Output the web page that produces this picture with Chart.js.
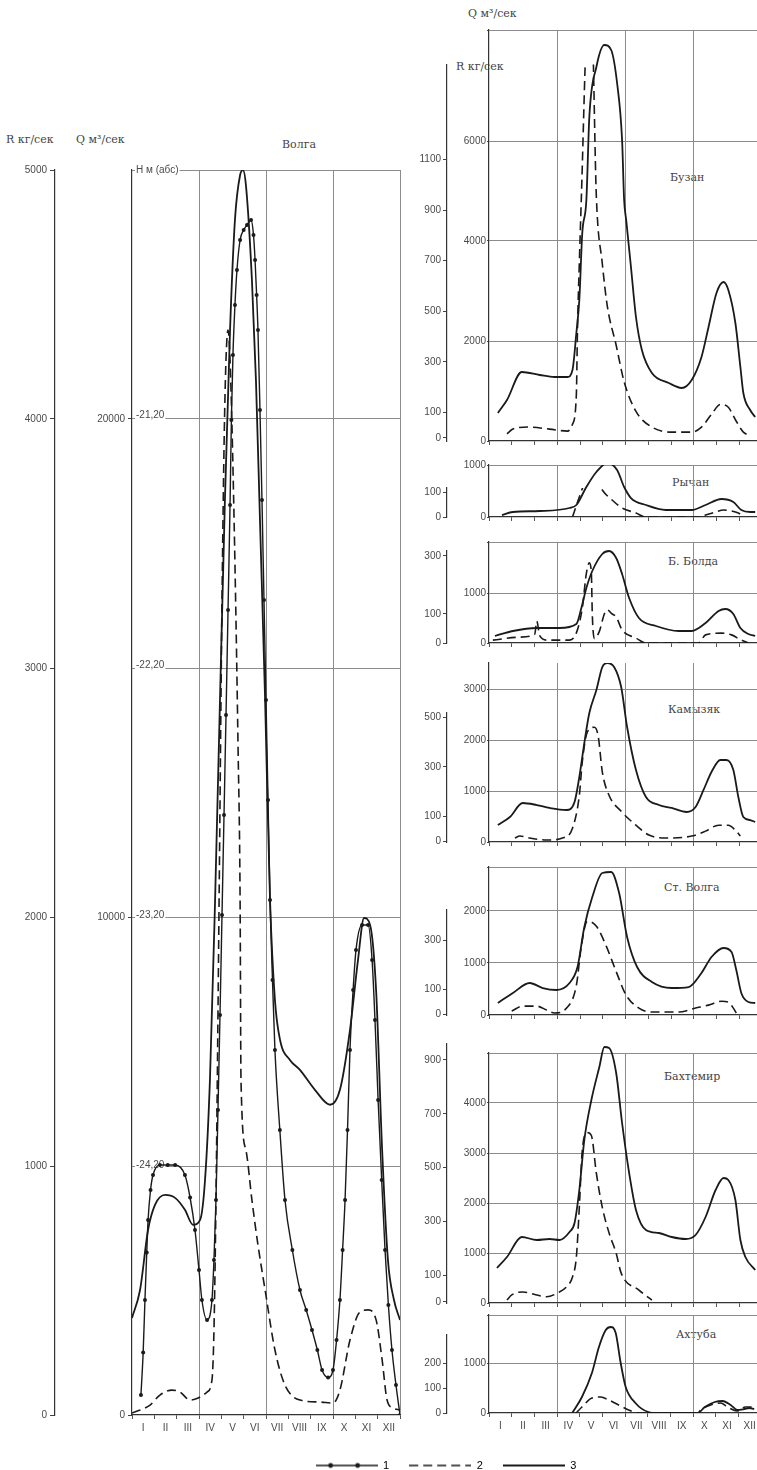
<!DOCTYPE html>
<html><head><meta charset="utf-8">
<script src="https://cdn.jsdelivr.net/npm/chart.js@4.4.1/dist/chart.umd.min.js"></script>
<style>
html,body{margin:0;padding:0;background:#fff;width:757px;height:1470px;overflow:hidden;position:relative;}
canvas{position:absolute;}
.t{position:absolute;font-family:"DejaVu Serif","Liberation Serif",serif;color:#444;font-size:11px;white-space:nowrap;line-height:1;}
</style></head><body>
<div class="t" style="left:6px;top:134px;">R кг/сек</div>
<div class="t" style="left:76px;top:134px;">Q м³/сек</div>
<div class="t" style="left:282px;top:139px;">Волга</div>
<div class="t" style="left:468px;top:8px;">Q м³/сек</div>
<div class="t" style="left:456px;top:61px;">R кг/сек</div>
<div class="t" style="left:670px;top:172px;">Бузан</div>
<div class="t" style="left:672px;top:477px;">Рычан</div>
<div class="t" style="left:668px;top:556px;">Б. Болда</div>
<div class="t" style="left:668px;top:704px;">Камызяк</div>
<div class="t" style="left:664px;top:882px;">Ст. Волга</div>
<div class="t" style="left:664px;top:1071px;">Бахтемир</div>
<div class="t" style="left:676px;top:1329px;">Ахтуба</div>
<script>
const ROMAN = ['I','II','III','IV','V','VI','VII','VIII','IX','X','XI','XII'];

// ---------- Волга ----------
const volgaH_m = [0.40,0.50,0.58,0.66,0.72,0.83,0.94,1.25,1.60,1.93,2.37,2.60,2.82,3.00,3.13,3.36,3.58,3.67,3.76,3.85,3.94,4.03,4.12,4.21,4.30,4.39,4.45,4.52,4.61,4.70,4.84,5.00,5.15,5.33,5.44,5.51,5.58,5.64,5.73,5.82,5.91,6.00,6.09,6.18,6.29,6.40,6.62,6.85,7.18,7.52,7.80,8.06,8.30,8.51,8.78,9.00,9.16,9.31,9.43,9.54,9.65,9.76,9.90,10.03,10.30,10.57,10.75,10.88,11.02,11.18,11.33,11.48,11.64,11.82,12.0];
const volgaH = [-25.12,-24.95,-24.74,-24.55,-24.42,-24.30,-24.24,-24.20,-24.20,-24.20,-24.24,-24.33,-24.46,-24.62,-24.74,-24.82,-24.74,-24.58,-24.34,-23.98,-23.60,-23.20,-22.80,-22.40,-21.98,-21.56,-21.22,-20.96,-20.76,-20.62,-20.50,-20.46,-20.44,-20.42,-20.48,-20.58,-20.72,-20.86,-21.18,-21.54,-21.94,-22.34,-22.74,-23.14,-23.46,-23.74,-24.06,-24.34,-24.54,-24.70,-24.78,-24.86,-24.94,-25.02,-25.05,-25.02,-24.90,-24.74,-24.54,-24.34,-24.06,-23.74,-23.50,-23.34,-23.24,-23.24,-23.38,-23.62,-23.94,-24.26,-24.54,-24.76,-24.94,-25.08,-25.20];
const volgaR_m = [0,0.81,1.25,1.79,2.15,2.60,2.96,3.36,3.58,3.67,3.76,3.90,4.03,4.16,4.30,4.39,4.57,4.75,4.84,4.88,5.10,5.37,5.64,5.96,6.40,6.85,7.52,8.42,9.00,9.31,9.76,10.21,10.57,10.93,11.20,11.42,11.69,12];
const volgaR = [8,40,80,100,92,60,68,92,140,341,863,2068,3273,4076,4357,4237,3598,2674,2068,1345,1064,863,683,502,261,120,60,52,48,100,301,414,422,382,221,60,28,20];
const volgaQ_m = [0,0.36,0.72,1.03,1.48,1.93,2.37,2.73,3.05,3.27,3.49,3.72,3.94,4.16,4.39,4.61,4.84,4.97,5.10,5.37,5.55,5.73,5.96,6.18,6.40,6.63,7.07,7.52,8.19,8.87,9.31,9.76,10.12,10.39,10.66,10.93,11.20,11.46,11.73,12];
const volgaQ = [1950,2510,3720,4220,4420,4360,4120,3820,3920,4720,6730,10340,14360,18370,21790,24000,24900,25000,24700,22790,20780,17970,14360,10340,8330,7530,7130,6930,6530,6230,6530,7730,9140,9980,9840,8530,5320,3110,2310,1910];
const volgaRTicks = [0,1000,2000,3000,4000,5000];
const volgaQTicks = [0,10000,20000];
const volgaHTicks = [-24.2,-23.2,-22.2,-21.2];

// ---------- Бузан ----------
const buzanQ_m = [0.39,0.79,1.44,2.23,2.88,3.45,3.67,3.84,3.97,4.10,4.28,4.41,4.72,5.07,5.37,5.63,5.85,5.94,6.03,6.24,6.46,6.72,7.16,7.90,8.47,8.91,9.34,9.65,10.00,10.31,10.52,10.83,11.05,11.18,11.48,11.70];
const buzanQ = [560,820,1380,1320,1280,1280,1420,2160,2820,4160,4820,6480,7480,7920,7820,7160,6020,4820,4420,3480,2480,1820,1360,1160,1060,1220,1680,2280,2960,3180,3020,2360,1480,960,620,480];
const buzanR_m = [0.79,1.05,1.70,2.66,3.45,3.67,3.84,3.89,3.97,4.06,4.32,4.50,4.72,4.98,5.20,5.59,5.94,6.46,7.16,8.03,8.91,9.34,9.78,10.17,10.52,10.87,11.18,11.48];
const buzanR = [16,35,43,35,27,54,171,432,689,950,1650,1700,950,689,521,366,222,105,43,23,23,43,93,132,121,66,23,10];

// ---------- Рычан ----------
const rychanQ_m = [0.57,1.05,2.23,3.54,3.84,4.28,4.72,5.20,5.63,5.94,6.24,6.90,7.77,8.91,9.52,10.22,10.74,11.09,11.48,11.70];
const rychanQ = [38,96,115,173,231,577,865,1038,904,577,365,231,135,135,231,346,288,135,96,96];
const rychanR_m = [3.67,3.97,4.32,4.54,4.76,4.98,5.41,5.85,6.46,6.90,9.21,9.52,9.96,10.31,10.66,10.96,11.18];
const rychanR = [0,80,160,180,148,108,68,36,16,0,0,8,20,28,24,16,4];

// ---------- Б. Болда ----------
const boldaQ_m = [0.26,1.05,2.10,3.10,3.84,4.06,4.28,4.54,4.98,5.28,5.59,5.85,6.16,6.59,7.34,8.34,8.91,9.52,10.09,10.39,10.74,11.05,11.40,11.70];
const boldaQ = [140,240,300,300,380,700,1100,1440,1780,1840,1700,1380,900,500,340,240,240,400,640,680,580,300,180,140];
const boldaR_m = [0.17,1.35,2.01,2.10,2.23,2.53,3.54,3.84,4.10,4.28,4.41,4.50,4.54,4.63,4.85,5.07,5.20,5.41,5.59,5.85,6.46,6.90,9.21,9.52,10.22,10.66,11.09,11.40];
const boldaR = [10,20,30,75,25,10,10,35,120,240,276,240,100,15,40,100,114,100,90,45,17,0,0,28,34,28,10,0];

// ---------- Камызяк ----------
const kamQ_m = [0.39,0.92,1.48,2.10,2.66,3.41,3.76,3.97,4.19,4.41,4.72,4.98,5.20,5.50,5.81,6.07,6.46,6.90,7.47,8.03,8.69,9.08,9.43,9.78,10.17,10.44,10.74,10.96,11.18,11.48,11.70];
const kamQ = [333,490,765,725,667,627,784,1275,1941,2529,2980,3431,3510,3431,3039,2255,1412,882,725,667,588,686,1020,1373,1608,1608,1412,882,490,431,392];
const kamR_m = [1.14,1.35,1.79,2.53,3.23,3.67,3.97,4.10,4.32,4.63,4.80,4.98,5.28,5.81,6.46,7.03,7.77,8.91,9.52,10.09,10.52,10.83,11.05];
const kamR = [12,20,12,4,12,52,184,320,440,460,424,280,184,120,64,24,12,20,40,64,64,44,20];

// ---------- Ст. Волга ----------
const stvQ_m = [0.39,1.05,1.79,2.36,2.97,3.54,3.89,4.19,4.54,4.98,5.37,5.72,6.07,6.51,7.16,8.03,8.78,9.34,9.78,10.31,10.66,10.87,11.09,11.40,11.70];
const stvQ = [231,423,615,519,481,615,923,1692,2269,2731,2750,2346,1500,923,635,519,538,808,1115,1288,1212,865,423,250,231];
const stvR_m = [1.00,1.48,2.10,2.53,2.88,3.41,3.84,4.06,4.32,4.72,5.15,5.59,6.03,6.59,7.16,8.34,9.08,9.65,10.22,10.52,10.74,10.87];
const stvR = [12,32,32,16,4,24,116,276,376,356,276,172,76,24,8,8,24,36,52,48,24,4];

// ---------- Бахтемир ----------
const bahQ_m = [0.35,0.79,1.44,2.10,2.66,3.10,3.54,3.76,3.97,4.19,4.50,4.85,5.07,5.28,5.59,5.85,6.16,6.46,6.90,7.47,8.03,8.65,9.08,9.52,9.96,10.31,10.52,10.83,11.05,11.27,11.70];
const bahQ = [700,920,1320,1260,1280,1260,1420,1600,2260,3260,4060,4720,5120,5100,4600,3600,2600,1860,1460,1400,1320,1280,1360,1720,2260,2500,2460,2060,1260,920,660];
const bahR_m = [0.79,1.00,1.48,2.10,2.53,3.01,3.41,3.67,3.84,3.97,4.10,4.32,4.50,4.72,4.98,5.28,5.59,5.81,6.59,7.16];
const bahR = [7,26,37,26,19,33,56,93,167,352,563,630,619,478,352,256,181,107,44,7];

// ---------- Ахтуба ----------
const ahtQ_m = [3.67,4.10,4.54,4.85,5.15,5.37,5.59,5.81,6.03,6.46,7.03,7.47,9.21,9.52,9.96,10.31,10.66,10.96,11.27,11.48,11.70];
const ahtQ = [0,320,800,1320,1660,1720,1600,1000,520,200,20,0,0,120,220,240,160,60,80,100,80];
const ahtR_m = [3.84,4.10,4.54,4.93,5.28,5.72,6.16,6.59,9.21,9.34,9.78,10.22,10.52,10.96,11.31,11.70];
const ahtR = [0,24,60,64,52,32,12,0,0,12,32,40,24,8,24,24];

const legendLabels = ['1','2','3'];

// ---------- helpers ----------
const INK = '#1a1a1a', GRID = '#8c8c8c', TXT = '#4a4a4a';
const TF = {family:'"Liberation Sans","DejaVu Sans",sans-serif', size:10};
const pts = (ms, vs) => ms.map((m, i) => ({x: m, y: vs[i]}));
const axisTops = {};
Chart.register({id:'axisTop', afterLayout(chart){
  const t = axisTops[chart.canvas.id]; if (!t) return;
  for (const k in t) { const s = chart.scales[k]; if (s) s.top = s.getPixelForValue(t[k]); }
}});

function mkCanvas(id, left, top, w, h){
  const c = document.createElement('canvas');
  c.id = id; c.width = w; c.height = h;
  c.style.left = left + 'px'; c.style.top = top + 'px';
  c.style.width = w + 'px'; c.style.height = h + 'px';
  document.body.appendChild(c);
  return c;
}
function xAxis(showLabels, h){
  return {type:'linear', axis:'x', min:0, max:12, position:'bottom',
    afterBuildTicks: s => { s.ticks = []; for (let v = 0; v <= 12; v += 0.5) s.ticks.push({value:v}); },
    ticks:{display:showLabels, autoSkip:false, maxRotation:0, padding:3, font:TF, color:TXT,
      callback: v => (Math.abs(v % 1 - 0.5) < 1e-6 ? ROMAN[Math.floor(v)] : '')},
    grid:{color: c => (c.tick && c.tick.value % 3 === 0 && c.tick.value > 0) ? GRID : 'rgba(0,0,0,0)',
      tickColor: c => (c.tick && c.tick.value % 1 === 0) ? '#555' : 'rgba(0,0,0,0)', tickLength:4, lineWidth:1},
    border:{color:'#333', width:1.3},
    afterFit: s => { s.height = h; }};
}
function lineDS(data, axis, dashed, extra){
  return Object.assign({data, xAxisID:'x', yAxisID:axis, borderColor:INK, backgroundColor:INK,
    borderWidth: dashed ? 1.6 : 1.8,
    borderDash: dashed ? [9,5] : [], pointRadius:0, fill:false, cubicInterpolationMode:'monotone'}, extra || {});
}

// ---------- Volga chart ----------
(function(){
  const c = mkCanvas('volga', 0, 150, 410, 1300);
  new Chart(c, {type:'line',
    data:{datasets:[
      lineDS(pts(volgaQ_m, volgaQ), 'yQ', false),
      lineDS(pts(volgaR_m, volgaR), 'yR', true),
      lineDS(pts(volgaH_m, volgaH), 'yH', false, {pointRadius:2, pointBackgroundColor:INK, pointBorderWidth:0, borderWidth:1.4})
    ]},
    options:{responsive:false, animation:false, layout:{padding:{top:20, right:10, bottom:0, left:0}},
      plugins:{legend:{display:false}, tooltip:{enabled:false}},
      scales:{
        x: xAxis(true, 35),
        yR:{type:'linear', axis:'y', position:'left', weight:2, min:0, max:5000,
          afterBuildTicks: s => { s.ticks = volgaRTicks.map(v => ({value:v})); },
          ticks:{font:TF, color:TXT, padding:3, callback: v => String(v)},
          grid:{color: c => (c.tick && c.tick.value > 0) ? GRID : 'rgba(0,0,0,0)', tickColor:'#444', tickLength:5},
          border:{color:'#333', width:1.2}, afterFit: s => { s.width = 55; }},
        yQ:{type:'linear', axis:'y', position:'left', weight:1, min:0, max:25000,
          afterBuildTicks: s => { s.ticks = volgaQTicks.map(v => ({value:v})); },
          ticks:{font:TF, color:TXT, padding:3, callback: v => String(v)},
          grid:{drawOnChartArea:false, tickColor:'#444', tickLength:4},
          border:{color:'#333', width:1.2}, afterFit: s => { s.width = 77; }},
        yH:{type:'linear', axis:'y', position:'left', weight:0, min:-25.2, max:-20.22,
          afterBuildTicks: s => { s.ticks = volgaHTicks.map(v => ({value:v})).concat([{value:-20.22}]); },
          ticks:{mirror:true, font:TF, color:TXT, padding:4, showLabelBackdrop:true, backdropColor:'#fff', backdropPadding:1,
            callback: v => (v > -20.5 ? 'H м (абс)' : '-' + Math.abs(v).toFixed(2).replace('.', ','))},
          grid:{drawOnChartArea:false, drawTicks:false}, border:{display:false}, afterFit: s => { s.width = 0; }}
      }}});
})();

// ---------- right panels ----------
const panels = [
  {id:'buzan', top:30, bottom:441, qMax:8220, qTicks:[0,2000,4000,6000], frame:true,
   rMin:-12, rMax:1611, rTicks:[0,100,300,500,700,900,1100], rTop:1475, Q:[buzanQ_m,buzanQ], R:[buzanR_m,buzanR]},
  {id:'rychan', top:465, bottom:517, qMax:1000, qTicks:[0,1000], frame:false,
   rMin:0, rMax:208, rTicks:[0,100], rTop:116, Q:[rychanQ_m,rychanQ], R:[rychanR_m,rychanR]},
  {id:'bolda', top:542, bottom:643, qMax:2020, qTicks:[0,1000], frame:true,
   rMin:0, rMax:348, rTicks:[0,100,300], rTop:320, Q:[boldaQ_m,boldaQ], R:[boldaR_m,boldaR]},
  {id:'kam', top:663, bottom:842, qMax:3510, qTicks:[0,1000,2000,3000], frame:false,
   rMin:-4, rMax:720, rTicks:[0,100,300,500], rTop:520, Q:[kamQ_m,kamQ], R:[kamR_m,kamR]},
  {id:'stv', top:867, bottom:1015, qMax:2846, qTicks:[0,1000,2000], frame:true,
   rMin:-4, rMax:596, rTicks:[0,100,300], rTop:424, Q:[stvQ_m,stvQ], R:[stvR_m,stvR]},
  {id:'bah', top:1053, bottom:1303, qMax:5000, qTicks:[0,1000,2000,3000,4000], frame:true,
   rMin:-4, rMax:926, rTicks:[0,100,300,500,700,900], rTop:960, Q:[bahQ_m,bahQ], R:[bahR_m,bahR], noclip:true},
  {id:'aht', top:1315, bottom:1413, qMax:1960, qTicks:[0,1000], frame:true,
   rMin:0, rMax:392, rTicks:[0,100,200], rTop:312, Q:[ahtQ_m,ahtQ], R:[ahtR_m,ahtR], labels:true}
];
panels.forEach(p => {
  const xh = p.labels ? 22 : 0;
  const padTop = 10, padBot = 8;
  const c = mkCanvas(p.id, 410, p.top - padTop, 354, p.bottom - p.top + padTop + padBot + xh);
  axisTops[p.id] = {yR: p.rTop};
  new Chart(c, {type:'line',
    data:{datasets:[
      lineDS(pts(p.Q[0], p.Q[1]), 'yQ', false, p.noclip ? {clip:false} : {}),
      lineDS(pts(p.R[0], p.R[1]), 'yR', true)
    ]},
    options:{responsive:false, animation:false, layout:{padding:{top:padTop, right:2, bottom:padBot, left:0}},
      plugins:{legend:{display:false}, tooltip:{enabled:false}},
      scales:{
        x: xAxis(!!p.labels, xh),
        yR:{type:'linear', axis:'y', position:'left', weight:2, min:p.rMin, max:p.rMax,
          afterBuildTicks: s => { s.ticks = p.rTicks.map(v => ({value:v})); },
          ticks:{font:TF, color:TXT, padding:2, callback: v => String(v)},
          grid:{drawOnChartArea:false, tickColor:'#444', tickLength:4},
          border:{color:'#333', width:1.2}, afterFit: s => { s.width = 37; }},
        yQ:{type:'linear', axis:'y', position:'left', weight:1, min:0, max:p.qMax,
          afterBuildTicks: s => { s.ticks = p.qTicks.map(v => ({value:v})); if (p.frame) s.ticks.push({value:p.qMax}); },
          ticks:{font:TF, color:TXT, padding:1, callback: v => ((p.frame && v === p.qMax) ? '' : String(v))},
          grid:{color: c => (c.tick && c.tick.value > 0) ? GRID : 'rgba(0,0,0,0)', tickColor:'#444', tickLength:2},
          border:{color:'#333', width:1.2}, afterFit: s => { s.width = 42; }}
      }}});
});

// ---------- legend (Chart.js legend, symbols as point-style images) ----------
(function(){
  function glyph(kind){
    const cv = document.createElement('canvas'); cv.width = 62; cv.height = 10;
    const g = cv.getContext('2d'); g.strokeStyle = INK; g.fillStyle = INK; g.lineWidth = kind === 3 ? 2.2 : 1.6;
    if (kind === 2) g.setLineDash([9,5]);
    g.beginPath(); g.moveTo(0, 5); g.lineTo(62, 5); g.stroke();
    if (kind === 1) [15, 42].forEach(x => { g.beginPath(); g.arc(x, 5, 2.4, 0, Math.PI * 2); g.fill(); });
    return cv;
  }
  const c = mkCanvas('legend', 246, 1440, 400, 30);
  new Chart(c, {type:'line', data:{datasets: legendLabels.map(l => ({label:l, data:[]}))},
    options:{responsive:false, animation:false, layout:{padding:0},
      scales:{x:{display:false}, y:{display:false}},
      plugins:{tooltip:{enabled:false}, legend:{display:true, position:'top', maxHeight:30,
        labels:{usePointStyle:true, pointStyleWidth:62, boxHeight:10, padding:20, font:{family:TF.family, size:11}, color:TXT,
          generateLabels: () => legendLabels.map((l, i) => ({text:l, pointStyle:glyph(i + 1), strokeStyle:INK, fillStyle:INK, lineWidth:1.5, datasetIndex:i}))
        }}}}});
})();
</script>
</body></html>
